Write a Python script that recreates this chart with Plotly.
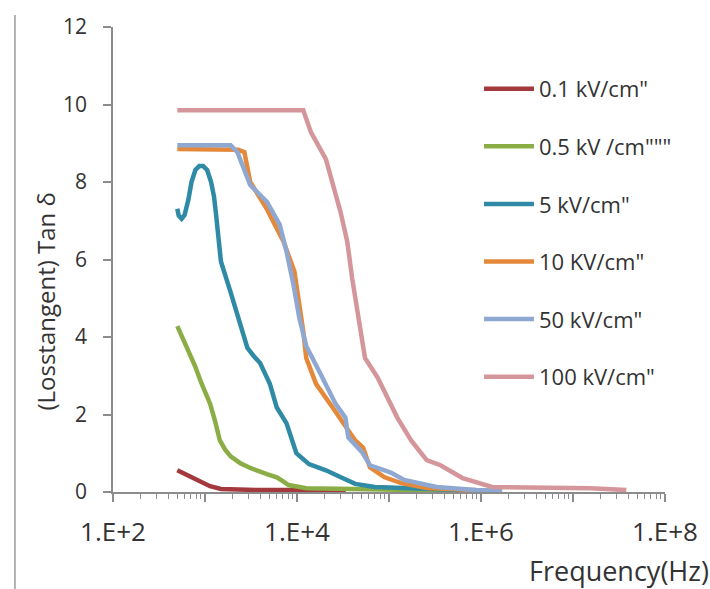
import plotly.graph_objects as go

# ---------------- data ----------------
series_names = ['0.1 kV/cm"', '0.5 kV /cm"""', '5 kV/cm"', '10 KV/cm"', '50 kV/cm"', '100 kV/cm"']
series_colors = ["#A3383D", "#8BAD45", "#2F8BA5", "#E5883A", "#8EA8D2", "#D5969B"]

f_01 = [500, 662, 845, 1135, 1490, 3690, 16100, 34000]
v_01 = [0.56, 0.41, 0.28, 0.15, 0.08, 0.05, 0.05, 0.03]

f_05 = [500, 580, 662, 780, 910, 1135, 1280, 1450, 1650, 1900, 2400, 3100, 4710, 6030, 7000, 8090,
        12600, 42900, 186000, 810000]
v_05 = [4.28, 3.95, 3.64, 3.25, 2.82, 2.28, 1.85, 1.33, 1.10, 0.92, 0.75, 0.62, 0.46, 0.38, 0.28, 0.18,
        0.10, 0.07, 0.05, 0.03]

f_5 = [500, 518, 557, 600, 662, 713, 786, 867, 955, 1055, 1165, 1254, 1316, 1380, 1490, 1900,
       2430, 2890, 3400, 3970, 5070, 6030, 7700, 8800, 9840, 13500, 20600, 31200, 42900, 70000,
       157000, 540000, 1050000]
v_5 = [7.31, 7.13, 7.05, 7.15, 7.56, 8.00, 8.31, 8.41, 8.41, 8.31, 8.00, 7.62, 7.18, 6.72, 5.95, 5.15,
       4.33, 3.72, 3.50, 3.33, 2.79, 2.18, 1.77, 1.35, 1.00, 0.72, 0.56, 0.36, 0.21, 0.13,
       0.10, 0.05, 0.03]

f_10 = [500, 1900, 2300, 2680, 3100, 4710, 7150, 9370, 10600, 11700, 12600, 16100, 24400, 36100, 42900,
        52200, 62000, 89600, 136000, 257000, 760000, 1300000]
v_10 = [8.85, 8.85, 8.83, 8.77, 8.00, 7.30, 6.46, 5.69, 4.92, 4.15, 3.46, 2.79, 2.18, 1.59, 1.33,
        1.15, 0.64, 0.38, 0.23, 0.10, 0.05, 0.03]

f_50 = [500, 1900, 2250, 3100, 4710, 6490, 7700, 9140, 10600, 12600, 17300, 22100, 26200, 33600,
        36100, 51000, 62000, 89600, 107000, 146000, 329000, 880000, 1700000]
v_50 = [8.95, 8.95, 8.77, 7.92, 7.49, 6.90, 6.20, 5.36, 4.49, 3.77, 3.13, 2.62, 2.28, 1.92,
        1.41, 1.03, 0.69, 0.56, 0.49, 0.31, 0.13, 0.05, 0.03]

f_100 = [500, 11700, 14200, 20600, 29700, 35200, 39800, 45000, 54800, 75300, 123000, 174000,
         257000, 363000, 630000, 1320000, 4600000, 15500000, 38000000]
v_100 = [9.85, 9.85, 9.28, 8.59, 7.23, 6.46, 5.51, 4.74, 3.46, 2.95, 1.92, 1.33,
         0.82, 0.69, 0.36, 0.13, 0.12, 0.10, 0.05]

x_tickvals = [1e2, 1e3, 1e4, 1e5, 1e6, 1e7, 1e8]
x_ticktext = ["1.E+2", "", "1.E+4", "", "1.E+6", "", "1.E+8"]
y_tickvals = [0, 2, 4, 6, 8, 10, 12]

x_title = "Frequency(Hz)"
y_title = "(Losstangent) Tan δ"

series_f = [f_01, f_05, f_5, f_10, f_50, f_100]
series_v = [v_01, v_05, v_5, v_10, v_50, v_100]

# minor tick positions for the log axis (2..9 of each decade)
minor_vals = [m * 10 ** k for k in range(2, 8) for m in range(2, 10)]

FONT = "Open Sans"
AXIS_COLOR = "#8C8C8C"
TEXT_COLOR = "#333333"

fig = go.Figure()
for name, color, fx, vy in zip(series_names, series_colors, series_f, series_v):
    fig.add_trace(go.Scatter(
        x=fx, y=vy, mode="lines", name=name, legendgroup=name,
        line=dict(color=color, width=4.5),
    ))

fig.update_layout(
    width=710, height=589,
    margin=dict(l=113, r=34, t=24, b=97),
    paper_bgcolor="white", plot_bgcolor="white",
    font=dict(family=FONT, color=TEXT_COLOR),
    showlegend=True,
    legend=dict(
        x=0.663, y=0.912, xanchor="left", yanchor="top",
        font=dict(family=FONT, size=22, color=TEXT_COLOR),
        tracegroupgap=26, bgcolor="rgba(0,0,0,0)", itemwidth=50,
    ),
    xaxis=dict(
        type="log", range=[2, 8],
        tickmode="array", tickvals=x_tickvals, ticktext=x_ticktext,
        ticks="outside", ticklen=8, tickwidth=1.5, tickcolor=AXIS_COLOR,
        showline=True, linecolor=AXIS_COLOR, linewidth=1.5,
        showgrid=False, zeroline=False,
        tickfont=dict(family=FONT, size=26, color=TEXT_COLOR),
        ticklabelstandoff=8,
        minor=dict(tickmode="array", tickvals=minor_vals, ticks="outside",
                   ticklen=5, tickwidth=1.2, tickcolor=AXIS_COLOR, showgrid=False),
    ),
    yaxis=dict(
        range=[0, 12], tickmode="array", tickvals=y_tickvals,
        ticks="outside", ticklen=8, tickwidth=1.5, tickcolor=AXIS_COLOR,
        showline=True, linecolor=AXIS_COLOR, linewidth=1.5,
        showgrid=False, zeroline=False,
        tickfont=dict(family=FONT, size=21, color=TEXT_COLOR),
        ticklabelstandoff=12,
    ),
)

# axis titles positioned like the reference
fig.add_annotation(
    text=x_title, xref="paper", yref="paper",
    x=(535 - 113) / 563, y=(492 - 571) / 468, xanchor="left", yanchor="middle",
    showarrow=False, font=dict(family=FONT, size=27, color=TEXT_COLOR),
)
fig.add_annotation(
    text=y_title, xref="paper", yref="paper", textangle=-90,
    x=(44 - 113) / 563, y=(492 - 300) / 468, xanchor="center", yanchor="middle",
    showarrow=False, font=dict(family=FONT, size=24, color=TEXT_COLOR),
)

# chart-area border line on the left
fig.add_shape(
    type="line", xref="paper", yref="paper",
    x0=(13 - 113) / 563, x1=(13 - 113) / 563,
    y0=(492 - 12) / 468, y1=(492 - 592) / 468,
    line=dict(color="#9A9A9A", width=1.5),
)

fig.write_html("out.html")
